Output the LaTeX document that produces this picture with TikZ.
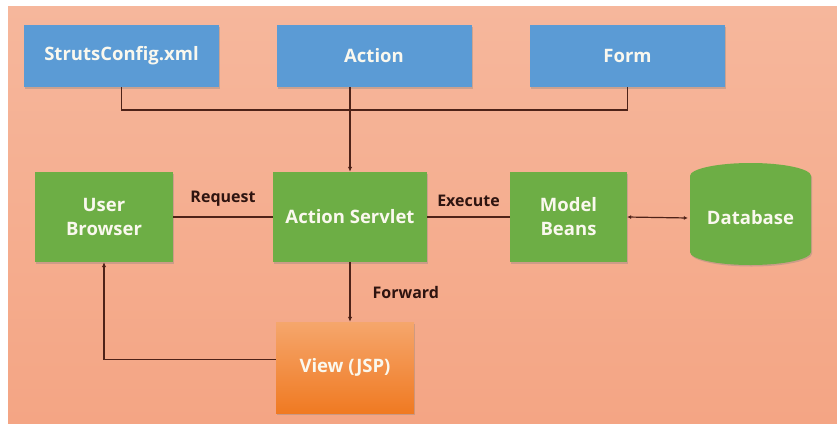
\documentclass[tikz,border=0pt]{standalone}
\usepackage{fontspec}
\setmainfont{Open Sans}
\usetikzlibrary{arrows.meta,shadows}
\definecolor{bgtop}{HTML}{F6B79C}
\definecolor{bgbot}{HTML}{F4A584}
\definecolor{boxblue}{HTML}{5B9BD5}
\definecolor{boxgreen}{HTML}{6DAE45}
\definecolor{vtop}{HTML}{F5A66C}
\definecolor{vbot}{HTML}{F07A22}
\definecolor{linec}{HTML}{4E2218}
\definecolor{labc}{HTML}{2E1410}
\definecolor{txtc}{HTML}{FAF8EE}
\tikzset{
  x=1pt, y=1pt,
  plainbox/.style={rectangle, inner sep=0pt, align=center, text=txtc,
    font=\fontsize{18.5}{24}\selectfont\bfseries},
  softshadow/.style={drop shadow={shadow xshift=1pt, shadow yshift=-1.5pt, opacity=0.35}},
  box/.style={plainbox, softshadow},
  bluebox/.style={box, fill=boxblue, minimum width=195pt, minimum height=62pt},
  greenbox/.style={box, fill=boxgreen, minimum height=90pt},
  conn/.style={draw=linec, line width=1.2pt},
  tip/.style={-{Latex[length=5pt,width=4.5pt]}},
  lab/.style={text=labc, font=\fontsize{16}{18}\selectfont\bfseries, inner sep=0pt}
}
\begin{document}
\begin{tikzpicture}
\useasboundingbox (0,0) rectangle (837,-423);
\shade[top color=bgtop, bottom color=bgbot] (8,-6) rectangle (837,-423);
% top row
\node[bluebox] (struts) at (121.5,-56) {StrutsConfig.xml};
\node[bluebox] (action) at (374,-56) {Action};
\node[bluebox] (form) at (627.5,-56) {Form};
% middle row
\node[greenbox, minimum width=138pt] (ub) at (104,-217) {User\\Browser};
\node[greenbox, minimum width=154pt] (servlet) at (350,-217) {Action Servlet};
\node[greenbox, minimum width=117pt] (mb) at (568.5,-217) {Model\\Beans};
% database cylinder
\fill[boxgreen, softshadow]
  (690,-176) -- (690,-252) arc[start angle=180, end angle=360, x radius=60.5, y radius=13]
  -- (811,-176) arc[start angle=0, end angle=180, x radius=60.5, y radius=13] -- cycle;
\node[plainbox, minimum width=121pt, minimum height=102pt] (db) at (750.5,-218) {Database};
% view
\node[box, top color=vtop, bottom color=vbot, minimum width=138pt, minimum height=91pt] (view) at (345,-367.5) {View (JSP)};
% connectors
\coordinate (bus) at (350,-110);
\draw[conn] (struts.south) |- (bus) -| (form.south);
\draw[conn, tip] (action.south -| servlet.north) -- (servlet.north);
\draw[conn] (ub.east) -- node[lab, above=10pt] (req) {Request} (servlet.west);
\draw[conn] (servlet.east) -- node[lab, above=10pt] (exe) {Execute} (mb.west);
\draw[conn, {Latex[length=4pt,width=4pt]}-{Latex[length=4pt,width=4pt]}] (mb.east) -- ([xshift=-2pt]db.west);
\draw[conn, tip] (servlet.south) -- (servlet.south |- view.north) node[lab, pos=0.5, right=22pt] (fwd) {Forward};
\draw[conn, tip] ([yshift=8pt]view.west) -| (ub.south);
\end{tikzpicture}
\end{document}
